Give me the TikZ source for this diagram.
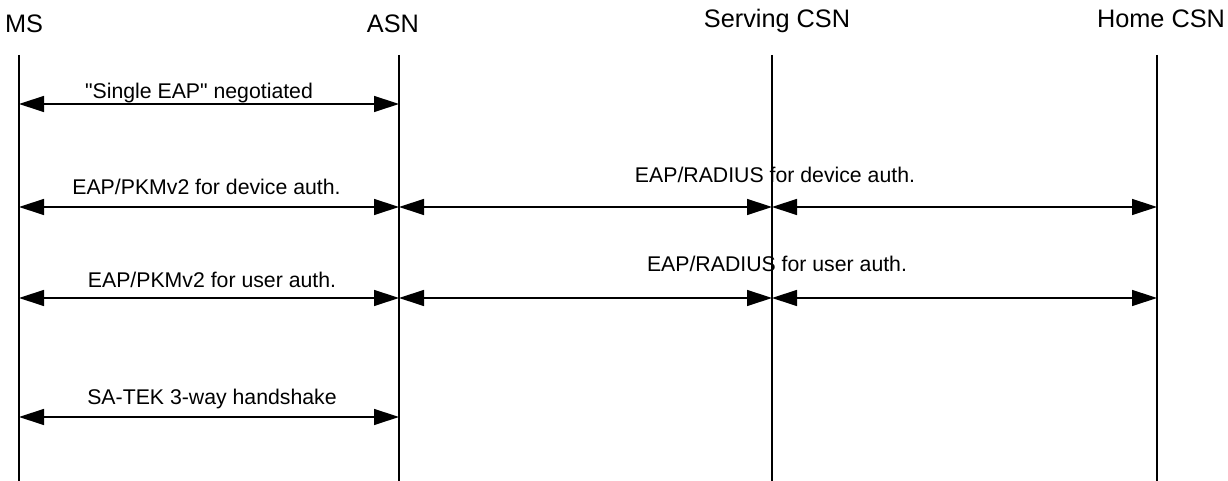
\documentclass[tikz,border=0pt]{standalone}
\usepackage{fontspec}
\setmainfont{Liberation Sans}[Ligatures=TeXOff]
\usepackage{tikz}
\usetikzlibrary{arrows.meta, positioning, calc}

\tikzset{
  entity/.style={font=\fontsize{14.4}{16}\selectfont, anchor=base, inner sep=0pt},
  msglabel/.style={font=\fontsize{12.1}{14}\selectfont, anchor=base, inner sep=0pt},
  lifeline/.style={line width=0.8pt},
  msg/.style={line width=0.75pt, {Triangle[length=5mm, width=3.2mm]}-{Triangle[length=5mm, width=3.2mm]}},
}

\begin{document}
\begin{tikzpicture}
\useasboundingbox (0,0) rectangle (24.56,9.62);

% Entities
\node[entity] (ms) at (0.48,8.96) {MS};
\node[entity] (asn) at (7.86,8.96) {ASN};
\node[entity] (scsn) at (15.54,9.06) {Serving CSN};
\node[entity] (hcsn) at (23.22,9.06) {Home CSN};

% Lifelines and message points
\foreach \n/\x in {ms/0.38, asn/7.98, scsn/15.44, hcsn/23.14} {
    \coordinate (\n-top) at (\x,8.52);
    \coordinate (\n-bot) at (\x,0);
    \draw[lifeline] (\n-top) -- (\n-bot);
    \foreach \i/\y in {1/7.54, 2/5.48, 3/3.66, 4/1.28}
        \coordinate (\n-\i) at (\x,\y);
}

% Single EAP negotiation
\draw[msg] (ms-1) -- (asn-1);
\node[msglabel] (neg) at (3.98,7.64) {"Single EAP" negotiated};

% Device authentication
\draw[msg] (ms-2) -- (asn-2);
\draw[msg] (asn-2) -- (scsn-2);
\draw[msg] (scsn-2) -- (hcsn-2);
\node[msglabel] (pkmdev) at (4.13,5.72) {EAP/PKMv2 for device auth.};
\node[msglabel] (raddev) at (15.5,5.96) {EAP/RADIUS for device auth.};

% User authentication
\draw[msg] (ms-3) -- (asn-3);
\draw[msg] (asn-3) -- (scsn-3);
\draw[msg] (scsn-3) -- (hcsn-3);
\node[msglabel] (pkmusr) at (4.24,3.86) {EAP/PKMv2 for user auth.};
\node[msglabel] (radusr) at (15.54,4.18) {EAP/RADIUS for user auth.};

% SA-TEK
\draw[msg] (ms-4) -- (asn-4);
\node[msglabel] (satek) at (4.24,1.52) {SA-TEK 3-way handshake};

\end{tikzpicture}
\end{document}
